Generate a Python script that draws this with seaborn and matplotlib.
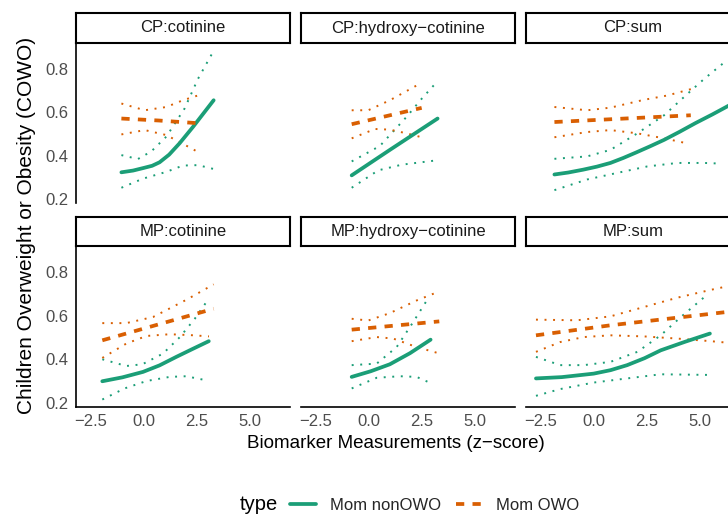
import matplotlib
matplotlib.use("Agg")
import matplotlib.pyplot as plt
from matplotlib.lines import Line2D
import pandas as pd
import seaborn as sns

# ---------------- data ----------------
panel_names = ["CP:cotinine", "CP:hydroxy\u2212cotinine", "CP:sum",
               "MP:cotinine", "MP:hydroxy\u2212cotinine", "MP:sum"]
types = ["Mom nonOWO", "Mom OWO"]

# CP:cotinine
cp_cot_non_est_x = [-1.05, -0.5, 0.0, 0.4, 0.75, 1.2, 1.7, 2.33, 3.3]
cp_cot_non_est_y = [0.324, 0.332, 0.344, 0.354, 0.37, 0.405, 0.458, 0.533, 0.655]
cp_cot_non_up_x = [-1.05, -0.27, 0.36, 1.07, 1.93, 2.56, 3.27]
cp_cot_non_up_y = [0.403, 0.385, 0.42, 0.488, 0.617, 0.753, 0.877]
cp_cot_non_lo_x = [-1.05, -0.03, 1.07, 1.85, 2.56, 3.27]
cp_cot_non_lo_y = [0.253, 0.295, 0.326, 0.355, 0.357, 0.34]
cp_cot_owo_est_x = [-1.05, 0.7, 2.5]
cp_cot_owo_est_y = [0.571, 0.562, 0.55]
cp_cot_owo_up_x = [-1.05, 0.05, 1.07, 1.85, 2.56]
cp_cot_owo_up_y = [0.64, 0.609, 0.624, 0.655, 0.677]
cp_cot_owo_lo_x = [-1.05, 0.05, 1.07, 1.85, 2.51]
cp_cot_owo_lo_y = [0.498, 0.518, 0.495, 0.455, 0.42]

# CP:hydroxy-cotinine
cp_hyd_non_est_x = [-0.8, 1.0, 3.25]
cp_hyd_non_est_y = [0.31, 0.427, 0.571]
cp_hyd_non_up_x = [-0.8, 0.53, 1.79, 2.5, 3.27]
cp_hyd_non_up_y = [0.374, 0.445, 0.579, 0.662, 0.745]
cp_hyd_non_lo_x = [-0.8, 0.45, 1.56, 3.05]
cp_hyd_non_lo_y = [0.253, 0.333, 0.359, 0.377]
cp_hyd_owo_est_x = [-0.8, 2.5]
cp_hyd_owo_est_y = [0.545, 0.62]
cp_hyd_owo_up_x = [-0.8, -0.02, 1.0, 2.34]
cp_hyd_owo_up_y = [0.609, 0.609, 0.655, 0.727]
cp_hyd_owo_lo_x = [-0.8, 0.3, 1.0, 1.79, 2.5]
cp_hyd_owo_lo_y = [0.48, 0.523, 0.52, 0.503, 0.485]

# CP:sum
cp_sum_non_est_x = [-1.85, -1.2, -0.5, 0.15, 0.79, 1.4, 2.0, 2.65, 3.32, 4.05, 4.8, 5.6, 6.4]
cp_sum_non_est_y = [0.314, 0.323, 0.336, 0.35, 0.367, 0.39, 0.415, 0.443, 0.473, 0.51, 0.55, 0.59, 0.632]
cp_sum_non_up_x = [-1.85, -0.31, 0.79, 2.06, 3.32, 4.43, 5.21, 6.16]
cp_sum_non_up_y = [0.386, 0.397, 0.427, 0.503, 0.586, 0.685, 0.753, 0.829]
cp_sum_non_lo_x = [-1.85, -0.31, 1.1, 2.53, 3.95, 5.21, 6.0]
cp_sum_non_lo_y = [0.242, 0.291, 0.321, 0.351, 0.367, 0.367, 0.364]
cp_sum_owo_est_x = [-1.85, 4.58]
cp_sum_owo_est_y = [0.555, 0.586]
cp_sum_owo_up_x = [-1.85, -0.31, 0.79, 2.37, 3.48, 4.66]
cp_sum_owo_up_y = [0.624, 0.609, 0.621, 0.657, 0.677, 0.708]
cp_sum_owo_lo_x = [-1.85, -0.31, 0.79, 2.06, 3.32, 4.5]
cp_sum_owo_lo_y = [0.485, 0.509, 0.518, 0.503, 0.48, 0.455]

# MP:cotinine
mp_cot_non_est_x = [-1.95, -1.0, -0.03, 0.75, 1.54, 2.3, 3.07]
mp_cot_non_est_y = [0.299, 0.317, 0.342, 0.372, 0.411, 0.447, 0.483]
mp_cot_non_up_x = [-1.95, -0.82, -0.06, 0.91, 1.71, 2.41, 3.03]
mp_cot_non_up_y = [0.4, 0.369, 0.377, 0.426, 0.502, 0.586, 0.673]
mp_cot_non_lo_x = [-1.95, -0.9, 0.13, 1.23, 2.0, 2.77]
mp_cot_non_lo_y = [0.215, 0.266, 0.3, 0.319, 0.322, 0.307]
mp_cot_owo_est_x = [-1.95, 3.3]
mp_cot_owo_est_y = [0.487, 0.632]
mp_cot_owo_up_x = [-1.95, -0.82, 0.44, 2.01, 3.3]
mp_cot_owo_up_y = [0.566, 0.566, 0.594, 0.673, 0.744]
mp_cot_owo_lo_x = [-1.95, -0.82, 0.13, 1.23, 2.37, 3.08]
mp_cot_owo_lo_y = [0.406, 0.472, 0.507, 0.515, 0.51, 0.505]

# MP:hydroxy-cotinine
mp_hyd_non_est_x = [-0.8, 0.1, 1.0, 1.95, 2.92]
mp_hyd_non_est_y = [0.319, 0.345, 0.377, 0.428, 0.49]
mp_hyd_non_up_x = [-0.8, 0.38, 1.32, 2.1, 2.74]
mp_hyd_non_up_y = [0.373, 0.38, 0.456, 0.571, 0.67]
mp_hyd_non_lo_x = [-0.8, 0.38, 1.48, 2.26, 2.89]
mp_hyd_non_lo_y = [0.266, 0.315, 0.322, 0.319, 0.292]
mp_hyd_owo_est_x = [-0.8, 3.33]
mp_hyd_owo_est_y = [0.536, 0.574]
mp_hyd_owo_up_x = [-0.8, -0.02, 1.0, 2.26, 3.13]
mp_hyd_owo_up_y = [0.586, 0.578, 0.612, 0.67, 0.704]
mp_hyd_owo_lo_x = [-0.8, 0.38, 1.16, 2.26, 3.25]
mp_hyd_owo_lo_y = [0.483, 0.502, 0.495, 0.456, 0.429]

# MP:sum
mp_sum_non_est_x = [-2.72, -1.5, 0.0, 0.8, 1.58, 2.4, 3.16, 4.3, 5.48]
mp_sum_non_est_y = [0.312, 0.318, 0.334, 0.35, 0.373, 0.405, 0.441, 0.48, 0.518]
mp_sum_non_up_x = [-2.72, -1.58, -0.47, 0.79, 2.06, 3.16, 4.11, 5.26]
mp_sum_non_up_y = [0.411, 0.373, 0.373, 0.388, 0.434, 0.51, 0.594, 0.689]
mp_sum_non_lo_x = [-2.72, -1.58, 0.0, 1.58, 3.16, 5.48]
mp_sum_non_lo_y = [0.232, 0.263, 0.293, 0.312, 0.331, 0.328]
mp_sum_owo_est_x = [-2.72, 0.79, 6.44]
mp_sum_owo_est_y = [0.51, 0.556, 0.619]
mp_sum_owo_up_x = [-2.72, -0.79, 0.79, 2.37, 3.95, 5.53, 6.44]
mp_sum_owo_up_y = [0.582, 0.579, 0.597, 0.64, 0.683, 0.719, 0.738]
mp_sum_owo_lo_x = [-2.72, -1.58, -0.47, 0.79, 2.37, 3.95, 5.53, 6.44]
mp_sum_owo_lo_y = [0.434, 0.479, 0.502, 0.51, 0.505, 0.495, 0.483, 0.475]

x_ticks = [-2.5, 0.0, 2.5, 5.0]
x_tick_labels = ["\u22122.5", "0.0", "2.5", "5.0"]
y_ticks = [0.2, 0.4, 0.6, 0.8]
y_tick_labels = ["0.2", "0.4", "0.6", "0.8"]

# ---------------- build long table ----------------
series = {
    "CP:cotinine": {
        "Mom nonOWO": [(cp_cot_non_est_x, cp_cot_non_est_y), (cp_cot_non_up_x, cp_cot_non_up_y), (cp_cot_non_lo_x, cp_cot_non_lo_y)],
        "Mom OWO": [(cp_cot_owo_est_x, cp_cot_owo_est_y), (cp_cot_owo_up_x, cp_cot_owo_up_y), (cp_cot_owo_lo_x, cp_cot_owo_lo_y)]},
    "CP:hydroxy\u2212cotinine": {
        "Mom nonOWO": [(cp_hyd_non_est_x, cp_hyd_non_est_y), (cp_hyd_non_up_x, cp_hyd_non_up_y), (cp_hyd_non_lo_x, cp_hyd_non_lo_y)],
        "Mom OWO": [(cp_hyd_owo_est_x, cp_hyd_owo_est_y), (cp_hyd_owo_up_x, cp_hyd_owo_up_y), (cp_hyd_owo_lo_x, cp_hyd_owo_lo_y)]},
    "CP:sum": {
        "Mom nonOWO": [(cp_sum_non_est_x, cp_sum_non_est_y), (cp_sum_non_up_x, cp_sum_non_up_y), (cp_sum_non_lo_x, cp_sum_non_lo_y)],
        "Mom OWO": [(cp_sum_owo_est_x, cp_sum_owo_est_y), (cp_sum_owo_up_x, cp_sum_owo_up_y), (cp_sum_owo_lo_x, cp_sum_owo_lo_y)]},
    "MP:cotinine": {
        "Mom nonOWO": [(mp_cot_non_est_x, mp_cot_non_est_y), (mp_cot_non_up_x, mp_cot_non_up_y), (mp_cot_non_lo_x, mp_cot_non_lo_y)],
        "Mom OWO": [(mp_cot_owo_est_x, mp_cot_owo_est_y), (mp_cot_owo_up_x, mp_cot_owo_up_y), (mp_cot_owo_lo_x, mp_cot_owo_lo_y)]},
    "MP:hydroxy\u2212cotinine": {
        "Mom nonOWO": [(mp_hyd_non_est_x, mp_hyd_non_est_y), (mp_hyd_non_up_x, mp_hyd_non_up_y), (mp_hyd_non_lo_x, mp_hyd_non_lo_y)],
        "Mom OWO": [(mp_hyd_owo_est_x, mp_hyd_owo_est_y), (mp_hyd_owo_up_x, mp_hyd_owo_up_y), (mp_hyd_owo_lo_x, mp_hyd_owo_lo_y)]},
    "MP:sum": {
        "Mom nonOWO": [(mp_sum_non_est_x, mp_sum_non_est_y), (mp_sum_non_up_x, mp_sum_non_up_y), (mp_sum_non_lo_x, mp_sum_non_lo_y)],
        "Mom OWO": [(mp_sum_owo_est_x, mp_sum_owo_est_y), (mp_sum_owo_up_x, mp_sum_owo_up_y), (mp_sum_owo_lo_x, mp_sum_owo_lo_y)]},
}
parts = ["est", "upper", "lower"]
rows = []
for pn, d in series.items():
    for t, lst in d.items():
        for part, (xs, ys) in zip(parts, lst):
            for i, (xv, yv) in enumerate(zip(xs, ys)):
                rows.append(dict(panel=pn, type=t, part=part, order=i, x=xv, y=yv))
df = pd.DataFrame(rows)

# ---------------- styling ----------------
sns.set_theme(style="white")
plt.rcParams["font.family"] = ["Liberation Sans", "DejaVu Sans"]
plt.rcParams["axes.unicode_minus"] = True

colors = {"Mom nonOWO": "#1B9E77", "Mom OWO": "#D95F02"}
est_style = {"Mom nonOWO": "-", "Mom OWO": (0, (2.2, 2.2))}
dot_style = (0, (1, 3.4))

W, H = 728, 515
fig = plt.figure(figsize=(W / 100, H / 100), dpi=100)
fig.patch.set_facecolor("white")


def add_ax(l, t, w, h):
    return fig.add_axes([l / W, 1 - (t + h) / H, w / W, h / H])


col_left = [76, 301, 526]
panel_w = 214
row_top = [43, 246.5]
panel_h = 160
strip_h = 30
xlim = (-3.19, 6.9)
ylim = (0.183, 0.918)

for idx, pn in enumerate(panel_names):
    r, c = divmod(idx, 3)
    ax = add_ax(col_left[c], row_top[r], panel_w, panel_h)
    sub = df[df.panel == pn]
    for t in types:
        for part in parts:
            s = sub[(sub.type == t) & (sub.part == part)].sort_values("order")
            if part == "est":
                sns.lineplot(data=s, x="x", y="y", ax=ax, color=colors[t],
                             linewidth=2.7, linestyle=est_style[t],
                             estimator=None, sort=False, legend=False,
                             zorder=3)
            else:
                sns.lineplot(data=s, x="x", y="y", ax=ax, color=colors[t],
                             linewidth=1.4, linestyle=dot_style,
                             estimator=None, sort=False, legend=False,
                             zorder=2)
    ax.set_xlim(*xlim)
    ax.set_ylim(*ylim)
    ax.set_xlabel("")
    ax.set_ylabel("")
    ax.set_facecolor("white")
    for sp in ["top", "right"]:
        ax.spines[sp].set_visible(False)
    ax.spines["left"].set_visible(c == 0)
    ax.spines["bottom"].set_visible(r == 1)
    for sp in ["left", "bottom"]:
        ax.spines[sp].set_color("black")
        ax.spines[sp].set_linewidth(1.2)
    ax.set_xticks(x_ticks)
    ax.set_yticks(y_ticks)
    ax.tick_params(axis="both", length=3.2, width=0.8, color="#333333",
                   labelcolor="#4D4D4D", labelsize=12, pad=2.5)
    if r == 1:
        ax.set_xticklabels(x_tick_labels)
    else:
        ax.tick_params(axis="x", bottom=False, labelbottom=False)
    if c == 0:
        ax.set_yticklabels(y_tick_labels)
    else:
        ax.tick_params(axis="y", left=False, labelleft=False)

    # strip
    sax = add_ax(col_left[c], row_top[r] - strip_h, panel_w, strip_h)
    sax.set_xticks([])
    sax.set_yticks([])
    sax.set_facecolor("white")
    for sp in sax.spines.values():
        sp.set_visible(True)
        sp.set_color("black")
        sp.set_linewidth(1.5)
    sax.text(0.5, 0.5, pn, ha="center", va="center", fontsize=12,
             color="#1A1A1A", transform=sax.transAxes)

# axis titles
fig.text(396 / W, 1 - 443 / H, "Biomarker Measurements (z\u2212score)",
         ha="center", va="center", fontsize=13.5, color="black")
fig.text(27 / W, 1 - 225.5 / H, "Children Overweight or Obesity (COWO)",
         ha="center", va="center", rotation=90, fontsize=15, color="black")

# legend
fig.text(240 / W, 1 - 505 / H, "type", ha="left", va="center",
         fontsize=14.5, color="black")
handles = [Line2D([], [], color=colors["Mom nonOWO"], lw=2.7, linestyle="-"),
           Line2D([], [], color=colors["Mom OWO"], lw=2.7,
                  linestyle=est_style["Mom OWO"])]
fig.legend(handles, types, loc="center left", ncol=2, frameon=False,
           bbox_to_anchor=(290 / W, 1 - 505 / H), fontsize=12,
           handlelength=1.56, handletextpad=0.84, columnspacing=0.9,
           borderaxespad=0, borderpad=0)

fig.savefig("out.png", dpi=100, facecolor="white")
